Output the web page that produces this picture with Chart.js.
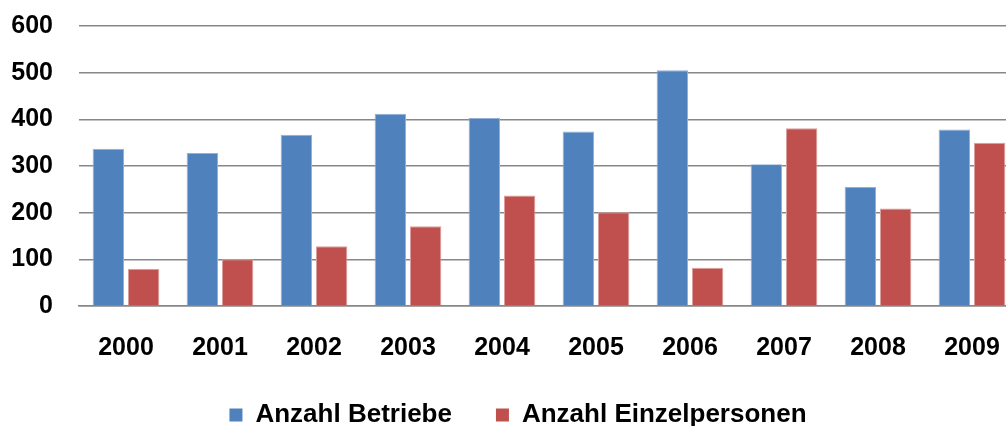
<!DOCTYPE html>
<html>
<head>
<meta charset="utf-8">
<script src="https://cdn.jsdelivr.net/npm/chart.js@4/dist/chart.umd.min.js"></script>
<style>
  html, body { margin: 0; padding: 0; overflow: hidden; background: #fff; }
  #wrap { width: 1036px; height: 426px; }
</style>
</head>
<body>
<div id="wrap"><canvas id="chart"></canvas></div>
<script>
const years = ['2000', '2001', '2002', '2003', '2004', '2005', '2006', '2007', '2008', '2009'];
const betriebe = [337, 328, 367, 412, 403, 374, 505, 304, 255, 378];
const einzelpersonen = [80, 100, 128, 171, 237, 201, 82, 381, 209, 350];
const yTicks = [0, 100, 200, 300, 400, 500, 600];

const gridGray = '#878787';
const font = (size) => ({ family: 'Arial, "Liberation Sans", sans-serif', size, weight: 'bold' });

// centre the legend on the whole canvas, not on the padded area
const legendCentre = {
  id: 'legendCentre',
  afterLayout: (c) => {
    c.legend.right = c.width;
  },
};

const ctx = document.getElementById('chart').getContext('2d');
// eslint-disable-next-line no-undef
const chart = new Chart(ctx, {
  type: 'bar',
  data: {
    labels: years,
    datasets: [
      {
        label: 'Anzahl Betriebe',
        data: betriebe,
        backgroundColor: '#4f81bd',
        borderColor: '#94b0d8',
        borderWidth: 1,
        borderSkipped: 'bottom',
        categoryPercentage: 0.752,
        barPercentage: 0.888,
      },
      {
        label: 'Anzahl Einzelpersonen',
        data: einzelpersonen,
        backgroundColor: '#c0504d',
        borderColor: '#dca09e',
        borderWidth: 1,
        borderSkipped: 'bottom',
        categoryPercentage: 0.752,
        barPercentage: 0.888,
      },
    ],
  },
  plugins: [legendCentre],
  options: {
    responsive: true,
    maintainAspectRatio: false,
    animation: false,
    layout: { padding: { top: 26, right: 17, left: 0, bottom: -12 } },
    plugins: {
      tooltip: { enabled: false },
      legend: {
        position: 'bottom',
        labels: {
          color: '#000',
          font: font(26),
          boxWidth: 13,
          boxHeight: 13,
          padding: 44,
          generateLabels: (c) => c.data.datasets.map((ds, i) => ({
            text: ds.label,
            fillStyle: ds.backgroundColor,
            strokeStyle: ds.backgroundColor,
            lineWidth: 0,
            fontColor: '#000',
            datasetIndex: i,
          })),
        },
      },
    },
    scales: {
      x: {
        grid: { display: false, drawTicks: false },
        border: { display: true, color: gridGray, width: 1.5 },
        ticks: { color: '#000', font: font(25), padding: 27, maxRotation: 0 },
        afterFit: (scale) => {
          scale.height -= 32;
        },
      },
      y: {
        min: 0,
        max: 600,
        afterBuildTicks: (scale) => {
          scale.ticks = yTicks.map((v) => ({ value: v }));
        },
        afterFit: (scale) => {
          // tick padding is meant to be horizontal only
          scale.width = 79;
          scale.paddingTop = 0;
          scale.paddingBottom = 0;
        },
        grid: { color: gridGray, lineWidth: 1.5, drawTicks: false },
        border: { display: false },
        ticks: { color: '#000', font: font(25), padding: 26 },
      },
    },
  },
});
</script>
</body>
</html>
